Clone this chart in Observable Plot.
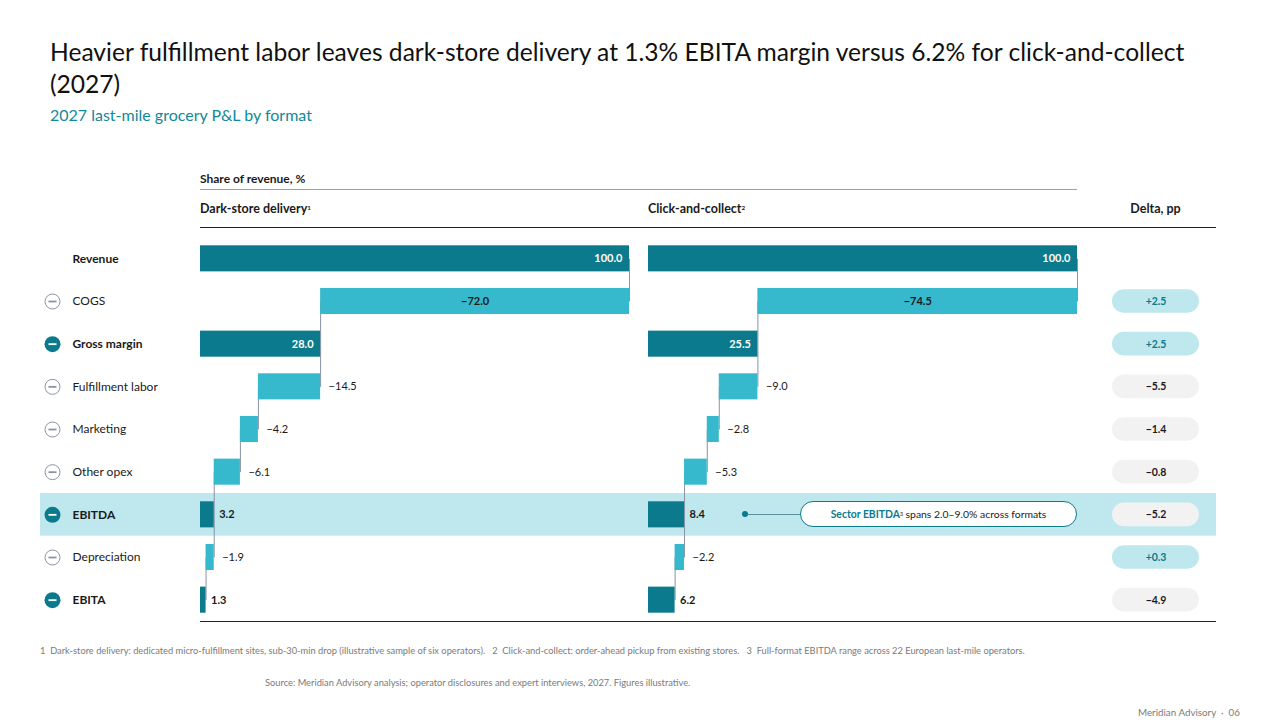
<!DOCTYPE html>
<html>
<head>
<meta charset="utf-8">
<script src="https://cdn.jsdelivr.net/npm/d3@7"></script>
<script src="https://cdn.jsdelivr.net/npm/@observablehq/plot@0.6"></script>
<style>
  body { margin: 0; background: #fff; }
  #page { position: relative; width: 1280px; height: 720px; overflow: hidden; font-family: Lato, "Open Sans", sans-serif; color: #1a1a1a; }
  .abs { position: absolute; white-space: nowrap; }
  .title { left: 50px; top: 36px; font-size: 24.6px; line-height: 32px; color: #111; }
  .subtitle { left: 50px; top: 105px; font-size: 16px; color: #10899a; }
  .hdr { font-size: 12.5px; font-weight: 700; }
  .rule { position: absolute; height: 0; }
  .foot { font-size: 9.3px; color: #7a7a7a; }
  sup { font-size: 0.5em; line-height: 0; vertical-align: 0.5em; }
  .callout { left: 800px; top: 501px; width: 275px; height: 24px; border: 1px solid #0b7a8c; border-radius: 13px; background: #fff;
             display: flex; align-items: center; justify-content: center; font-size: 10.4px; }
  .callout b { color: #0b7a8c; }
</style>
</head>
<body>
<div id="page">
  <div class="abs title">Heavier fulfillment labor leaves dark-store delivery at 1.3% EBITA margin versus 6.2% for click-and-collect<br>(2027)</div>
  <div class="abs subtitle">2027 last-mile grocery P&amp;L by format</div>

  <div class="abs hdr" style="left:200px;top:171px;font-size:12px;">Share of revenue, %</div>
  <div class="rule" style="left:200px;top:189px;width:877px;border-top:1px solid #9aa0a8;"></div>
  <div class="abs hdr" style="left:200px;top:201px;">Dark-store delivery<sup>1</sup></div>
  <div class="abs hdr" style="left:648px;top:201px;">Click-and-collect<sup>2</sup></div>
  <div class="abs hdr" style="left:1112px;top:201px;width:87px;text-align:center;">Delta, pp</div>
  <div class="rule" style="left:200px;top:227px;width:1016px;border-top:1px solid #222;"></div>

  <div id="chart"></div>

  <div class="rule" style="left:200px;top:621px;width:1016px;border-top:1px solid #222;"></div>

  <div class="abs" style="left:742px;top:511px;width:6px;height:6px;border-radius:3px;background:#0b7a8c;"></div>
  <div class="rule" style="left:748px;top:514px;width:52px;border-top:1px solid #5b8f99;"></div>
  <div class="abs callout"><b>Sector EBITDA</b><sup>3</sup>&nbsp;spans 2.0–9.0% across formats</div>

  <div class="abs foot" style="left:40px;top:645px;">1&nbsp; Dark-store delivery: dedicated micro-fulfillment sites, sub-30-min drop (illustrative sample of six operators). &nbsp;&nbsp;2&nbsp; Click-and-collect: order-ahead pickup from existing stores. &nbsp;&nbsp;3&nbsp; Full-format EBITDA range across 22 European last-mile operators.</div>
  <div class="abs foot" style="left:265px;top:677px;">Source: Meridian Advisory analysis; operator disclosures and expert interviews, 2027. Figures illustrative.</div>
  <div class="abs foot" style="left:1138px;top:706px;font-size:9.8px;">Meridian Advisory &nbsp;·&nbsp; 06</div>
</div>

<script>
// P&L lines, top to bottom
const labels = ["Revenue", "COGS", "Gross margin", "Fulfillment labor", "Marketing", "Other opex", "EBITDA", "Depreciation", "EBITA"];
// total = starting line, cost = deduction, subtotal = running result
const kinds = ["total", "cost", "subtotal", "cost", "cost", "cost", "subtotal", "cost", "subtotal"];
// share of revenue, %
const darkStore = [100.0, -72.0, 28.0, -14.5, -4.2, -6.1, 3.2, -1.9, 1.3];
const clickCollect = [100.0, -74.5, 25.5, -9.0, -2.8, -5.3, 8.4, -2.2, 6.2];
// dark-store minus click-and-collect, pp
const deltas = [null, 2.5, 2.5, -5.5, -1.4, -0.8, -5.2, 0.3, -4.9];
const highlightRow = ["EBITDA"];

const FONT = "Lato, 'Open Sans', sans-serif";
const DARK = "#0b7a8c", LIGHT = "#36b9cc", BAND = "#bfe8ee", PILL = "#f2f2f2", GREY = "#8a93a5";
const W = 1280, H = 384;

const minus = v => (v < 0 ? "\u2212" : "") + Math.abs(v).toFixed(1);
const signed = v => (v > 0 ? "+" : "\u2212") + Math.abs(v).toFixed(1);

const yScale = {type: "band", domain: labels, padding: 0, round: false, axis: null};

function waterfall(values) {
  let level = 0;
  return values.map((v, i) => {
    let x1, x2;
    if (kinds[i] === "cost") { x1 = level; x2 = level + v; }
    else { x1 = 0; x2 = v; }
    level = x2;
    return {label: labels[i], kind: kinds[i], value: v, x1, x2, lo: Math.min(x1, x2), hi: Math.max(x1, x2), level};
  });
}

// horizontal bar glyph used inside the row icons
const minusSymbol = {
  draw(context, size) {
    const r = Math.sqrt(size / Math.PI);
    const t = 0.45 * r / 2;
    context.rect(-r, -t, 2 * r, 2 * t);
  }
};

function panel(values, left, right) {
  const steps = waterfall(values);
  const links = steps.slice(0, -1).map((d, i) => ({x: d.level, y1: d.label, y2: steps[i + 1].label}));
  const big = steps.filter(d => Math.abs(d.value) >= 20);
  const bigDark = big.filter(d => d.kind !== "cost");
  const bigLight = big.filter(d => d.kind === "cost");
  const smallCost = steps.filter(d => Math.abs(d.value) < 20 && d.kind === "cost");
  const smallSub = steps.filter(d => Math.abs(d.value) < 20 && d.kind !== "cost");
  return Plot.plot({
    width: W, height: H,
    marginLeft: left, marginRight: W - right, marginTop: 0, marginBottom: 0,
    x: {domain: [0, 100], axis: null},
    y: yScale,
    color: {type: "identity"},
    style: {fontFamily: FONT, fontSize: "11px", background: "transparent", overflow: "visible"},
    marks: [
      Plot.link(links, {x1: "x", x2: "x", y1: "y1", y2: "y2", stroke: GREY, strokeWidth: 1}),
      Plot.barX(steps, {x1: "x1", x2: "x2", y: "label", fill: d => d.kind === "cost" ? LIGHT : DARK, insetTop: 8.3, insetBottom: 8.3}),
      Plot.text(bigDark, {x: "hi", y: "label", text: d => minus(d.value), textAnchor: "end", dx: -7, fill: "white", fontWeight: 700}),
      Plot.text(bigLight, {x: d => (d.x1 + d.x2) / 2, y: "label", text: d => minus(d.value), fill: "#1a1a1a", fontWeight: 700}),
      Plot.text(smallCost, {x: "hi", y: "label", text: d => minus(d.value), textAnchor: "start", dx: 8, fill: "#1a1a1a"}),
      Plot.text(smallSub, {x: "hi", y: "label", text: d => minus(d.value), textAnchor: "start", dx: 5, fill: "#1a1a1a", fontWeight: 700})
    ]
  });
}

const rows = labels.map((label, i) => ({label, kind: kinds[i], delta: deltas[i]}));
const iconRows = rows.filter(d => d.kind !== "total");
const subRows = iconRows.filter(d => d.kind === "subtotal");
const costRows = iconRows.filter(d => d.kind === "cost");
const deltaRows = rows.filter(d => d.delta != null);

const frame = Plot.plot({
  width: W, height: H,
  marginLeft: 40, marginRight: 64, marginTop: 0, marginBottom: 0,
  x: {type: "band", domain: ["delta"], range: [1112, 1199], padding: 0, round: false, axis: null},
  y: yScale,
  color: {type: "identity"},
  style: {fontFamily: FONT, fontSize: "12px", background: "transparent", overflow: "visible"},
  marks: [
    Plot.cell(highlightRow, {y: d => d, fill: BAND}),
    Plot.cell(deltaRows, {x: () => "delta", y: "label", fill: d => d.delta > 0 ? BAND : PILL, insetTop: 9.5, insetBottom: 9.5, rx: 12}),
    Plot.text(deltaRows, {x: () => "delta", y: "label", text: d => signed(d.delta), fill: d => d.delta > 0 ? DARK : "#1a1a1a", fontWeight: 700, fontSize: 10.5}),
    Plot.dot(subRows, {y: "label", frameAnchor: "left", dx: 12, r: 8, fill: DARK}),
    Plot.dot(costRows, {y: "label", frameAnchor: "left", dx: 12, r: 7.5, fill: "white", stroke: GREY, strokeWidth: 1}),
    Plot.dot(subRows, {y: "label", frameAnchor: "left", dx: 12, r: 4, symbol: minusSymbol, fill: "white", stroke: "none"}),
    Plot.dot(costRows, {y: "label", frameAnchor: "left", dx: 12, r: 4, symbol: minusSymbol, fill: GREY, stroke: "none"}),
    Plot.text(rows.filter(d => d.kind !== "cost"), {y: "label", text: "label", frameAnchor: "left", dx: 32, textAnchor: "start", fontWeight: 700, fill: "#1a1a1a"}),
    Plot.text(costRows, {y: "label", text: "label", frameAnchor: "left", dx: 32, textAnchor: "start", fill: "#1a1a1a"})
  ]
});

const chart = document.getElementById("chart");
for (const svg of [frame, panel(darkStore, 200, 629), panel(clickCollect, 648, 1077)]) {
  svg.style.position = "absolute";
  svg.style.left = "0px";
  svg.style.top = "237px";
  svg.style.maxWidth = "none";
  chart.appendChild(svg);
}
</script>
</body>
</html>
